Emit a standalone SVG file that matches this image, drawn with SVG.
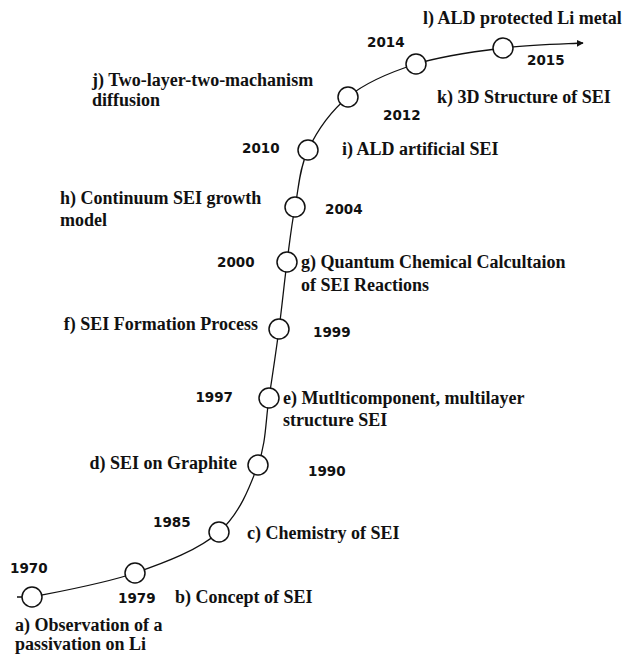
<svg xmlns="http://www.w3.org/2000/svg" width="628" height="656" viewBox="0 0 628 656">
<style>
.lbl{font-family:"Liberation Serif","Times New Roman",serif;font-weight:bold;font-size:18px;fill:#111}
.yr{font-family:"DejaVu Sans",Verdana,sans-serif;font-weight:bold;font-size:13.5px;fill:#111}
.nd{fill:#fff;stroke:#111;stroke-width:1.5}
.ln{fill:none;stroke:#111;stroke-width:1.3}
</style>
<defs>
<marker id="arr" viewBox="0 0 10 10" refX="9" refY="5" markerWidth="7" markerHeight="7" markerUnits="userSpaceOnUse" orient="auto">
<path d="M0,0 L10,5 L0,10 z" fill="#111"/>
</marker>
</defs>
<rect width="628" height="656" fill="#fff"/>
<g id="connectors">
<path class="ln" marker-end="url(#arr)" d="M17,597 L32,597 C51.7,593 103.8,583.8 135,573 C166.2,562.2 198.5,550 219,532 C239.5,514 249.7,487.3 258,465 C266.3,442.7 265.5,420.7 269,398 C272.5,375.3 276,351.7 279,329 C282,306.3 284.3,282.2 287,262 C289.7,241.8 291.3,226.3 295,207 C298.7,188.7 299.2,168.5 308,150 C316.8,131.5 330.2,111.7 348,97 C365.8,82.3 390.2,72.2 416,64 C441.8,55.8 475.2,51.5 503,48 C530.8,44.5 569.7,43.8 583,43"/>
</g>
<g id="node-a"><circle class="nd" cx="32" cy="597" r="10"/><text class="yr" x="10" y="573">1970</text><text class="lbl" x="15" y="631">a) Observation of a</text><text class="lbl" x="15" y="650">passivation on Li</text></g>
<g id="node-b"><circle class="nd" cx="135" cy="573" r="10"/><text class="yr" x="118" y="603">1979</text><text class="lbl" x="175" y="603">b) Concept of SEI</text></g>
<g id="node-c"><circle class="nd" cx="219" cy="532" r="10"/><text class="yr" x="153" y="527">1985</text><text class="lbl" x="247" y="539">c) Chemistry of SEI</text></g>
<g id="node-d"><circle class="nd" cx="258" cy="465" r="10"/><text class="yr" x="308" y="476">1990</text><text class="lbl" x="237" y="469" text-anchor="end">d) SEI on Graphite</text></g>
<g id="node-e"><circle class="nd" cx="269" cy="398" r="10"/><text class="yr" x="233" y="402" text-anchor="end">1997</text><text class="lbl" x="283" y="404">e) Mutlticomponent, multilayer</text><text class="lbl" x="283" y="426">structure SEI</text></g>
<g id="node-f"><circle class="nd" cx="279" cy="329" r="10"/><text class="yr" x="313" y="337">1999</text><text class="lbl" x="258" y="330" text-anchor="end">f) SEI Formation Process</text></g>
<g id="node-g"><circle class="nd" cx="287" cy="262" r="10"/><text class="yr" x="217" y="267">2000</text><text class="lbl" x="301" y="268">g) Quantum Chemical Calcultaion</text><text class="lbl" x="301" y="291">of SEI Reactions</text></g>
<g id="node-h"><circle class="nd" cx="295" cy="207" r="10"/><text class="yr" x="325" y="214">2004</text><text class="lbl" x="60" y="204">h) Continuum SEI growth</text><text class="lbl" x="60" y="226">model</text></g>
<g id="node-i"><circle class="nd" cx="308" cy="150" r="10"/><text class="yr" x="242" y="153">2010</text><text class="lbl" x="342" y="155">i) ALD artificial SEI</text></g>
<g id="node-j"><circle class="nd" cx="348" cy="97" r="10"/><text class="yr" x="383" y="120">2012</text><text class="lbl" x="92" y="86">j) Two-layer-two-machanism</text><text class="lbl" x="92" y="106">diffusion</text></g>
<g id="node-k"><circle class="nd" cx="416" cy="64" r="10"/><text class="yr" x="367" y="47">2014</text><text class="lbl" x="437" y="103">k) 3D Structure of SEI</text></g>
<g id="node-l"><circle class="nd" cx="503" cy="48" r="10"/><text class="yr" x="527" y="65">2015</text><text class="lbl" x="423" y="24">l) ALD protected Li metal</text></g>
</svg>
